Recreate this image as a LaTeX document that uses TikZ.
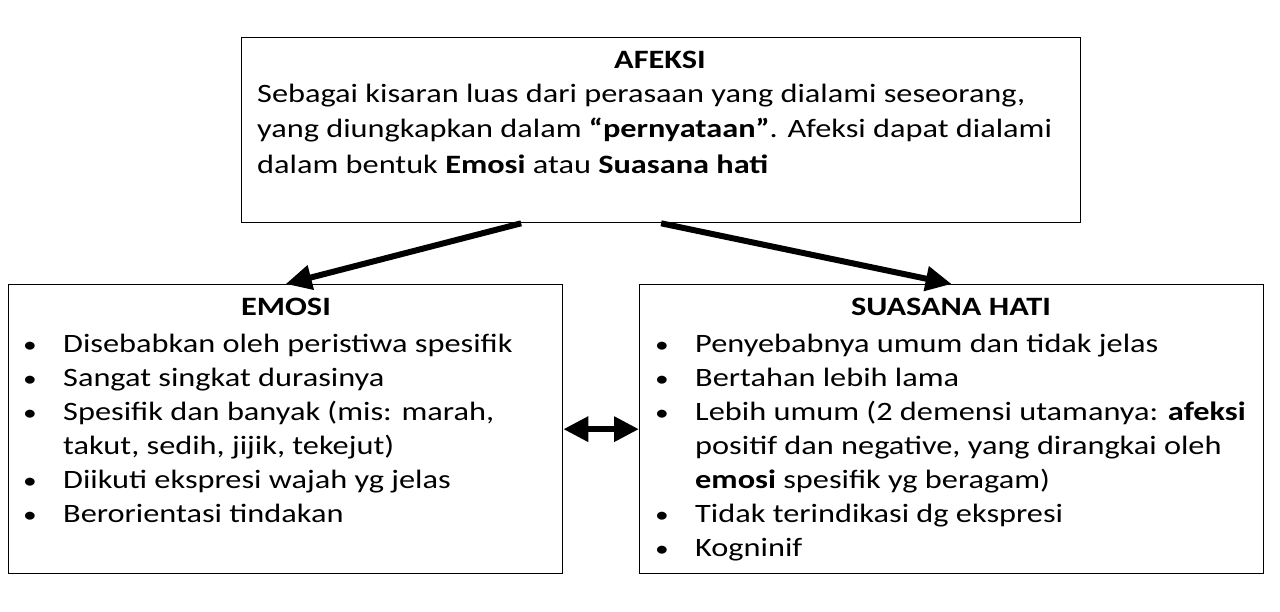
\documentclass[tikz,border=0pt]{standalone}
\usepackage{fontspec}
\setmainfont{Carlito}[FakeStretch=1.22]
\usetikzlibrary{arrows.meta,positioning}
\newcommand{\bul}{\makebox[40pt][l]{\scalebox{0.85}{\textbullet}}}
\newcommand{\ind}{\hspace*{40pt}}
\newcommand{\txt}{\fontsize{26.5}{34}\selectfont}
\newcommand{\toptxt}{\fontsize{26.5}{35.5}\selectfont}
\tikzset{
  box/.style={draw,line width=1.3pt,inner sep=0pt,anchor=north west},
  ttl/.style={font=\txt\bfseries,inner sep=0pt,anchor=base},
  body/.style={font=\txt,align=left,inner sep=0pt,anchor=north west},
  arr/.style={line width=6pt,-{Triangle[length=26pt,width=24pt]}},
  twin/.style={line width=6.5pt,{Triangle[length=25pt,width=24pt]}-{Triangle[length=25pt,width=24pt]}}
}

\begin{document}
\begin{tikzpicture}[x=1pt,y=-1pt]
\useasboundingbox (0,0) rectangle (1280,611);
% boxes
\node[box,minimum width=839pt,minimum height=185pt] (afeksi) at (241,37) {};
\node[box,minimum width=554pt,minimum height=289pt] (emosi) at (8,284) {};
\node[box,minimum width=624pt,minimum height=289pt] (suasana) at (639,284) {};
% titles
\node[ttl] (afeksittl) at (660,68) {AFEKSI};
\node[ttl] (emosittl) at (286,315) {EMOSI};
\node[ttl] (suasanattl) at (951,315) {SUASANA HATI};
% texts
\node[body,font=\toptxt] (afeksitxt) at (257,77.2) {\strut Sebagai kisaran luas dari perasaan yang dialami seseorang,\\
\strut yang diungkapkan dalam \textbf{“pernyataan”}. Afeksi dapat dialami\\
\strut dalam bentuk \textbf{Emosi} atau \textbf{Suasana hati}};
\node[body] (emositxt) at (23,328.2) {\strut\bul Disebabkan oleh peristiwa spesifik\\
\strut\bul Sangat singkat durasinya\\
\strut\bul Spesifik dan banyak (mis: marah,\\
\strut\ind takut, sedih, jijik, tekejut)\\
\strut\bul Diikuti ekspresi wajah yg jelas\\
\strut\bul Berorientasi tindakan};
\node[body] (suasanatxt) at (655,328.2) {\strut\bul Penyebabnya umum dan tidak jelas\\
\strut\bul Bertahan lebih lama\\
\strut\bul Lebih umum (2 demensi utamanya: \textbf{afeksi}\\
\strut\ind positif dan negative, yang dirangkai oleh\\
\strut\ind \textbf{emosi} spesifik yg beragam)\\
\strut\bul Tidak terindikasi dg ekspresi\\
\strut\bul Kogninif};
% arrows
\coordinate (afeksileft) at ([xshift=-140pt]afeksi.south);
\draw[arr] (afeksileft) -- (emosi.north);
\draw[arr] (afeksi.south) -- (suasana.north);
\draw[twin] (emosi.east) -- (suasana.west);
\end{tikzpicture}
\end{document}
